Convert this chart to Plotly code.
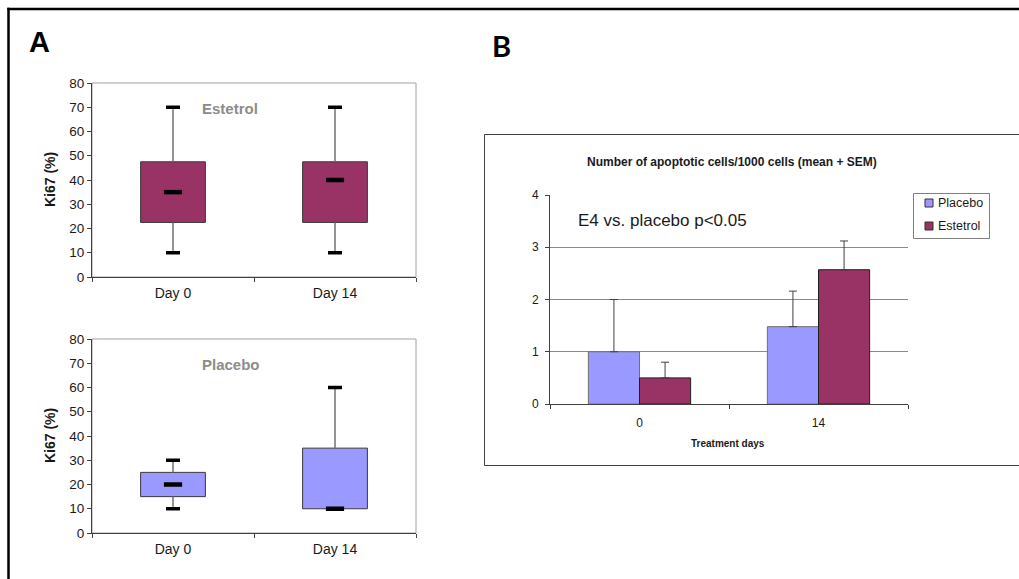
import plotly.graph_objects as go

W, H = 1019, 579

# ---------------- data ----------------
days = ["Day 0", "Day 14"]

estetrol_min = [10, 10]
estetrol_q1 = [22.5, 22.5]
estetrol_median = [35, 40]
estetrol_q3 = [47.5, 47.5]
estetrol_max = [70, 70]

placebo_min = [10, 10]
placebo_q1 = [15, 10]
placebo_median = [20, 10]
placebo_q3 = [25, 35]
placebo_max = [30, 60]

treat_days = ["0", "14"]
series_names = ["Placebo", "Estetrol"]
apo_placebo = [1.0, 1.48]
apo_placebo_sem = [1.0, 0.68]
apo_estetrol = [0.5, 2.57]
apo_estetrol_sem = [0.3, 0.55]

PLUM = "#993366"
LAV = "#9999FF"
FONT = "Liberation Sans, Arial, sans-serif"


def px(x):
    return x / W


def py(y):
    return 1 - y / H


fig = go.Figure()


def add_boxes(xa, ya, mn, q1, med, q3, mx, color):
    height = [b - a for a, b in zip(q1, q3)]
    fig.add_trace(go.Bar(x=days, y=height, base=q1, width=0.4,
                         marker=dict(color=color, line=dict(color="#3a3a3a", width=1)),
                         xaxis=xa, yaxis=ya, showlegend=False, hoverinfo="skip"))
    wx, wy = [], []
    for d, a, b, c, e in zip(days, mn, q1, q3, mx):
        wx += [d, d, None, d, d, None]
        wy += [a, b, None, c, e, None]
    fig.add_trace(go.Scatter(x=wx, y=wy, mode="lines",
                             line=dict(color="#707070", width=1.5),
                             xaxis=xa, yaxis=ya, showlegend=False, hoverinfo="skip"))
    fig.add_trace(go.Scatter(x=days + days, y=mn + mx, mode="markers",
                             marker=dict(symbol="line-ew", size=10,
                                         line=dict(color="black", width=3.5)),
                             xaxis=xa, yaxis=ya, showlegend=False, hoverinfo="skip"))
    fig.add_trace(go.Scatter(x=days, y=med, mode="markers",
                             marker=dict(symbol="line-ew", size=13,
                                         line=dict(color="black", width=4.5)),
                             xaxis=xa, yaxis=ya, showlegend=False, hoverinfo="skip"))


add_boxes("x", "y", estetrol_min, estetrol_q1, estetrol_median, estetrol_q3, estetrol_max, PLUM)
add_boxes("x2", "y2", placebo_min, placebo_q1, placebo_median, placebo_q3, placebo_max, LAV)

# Panel B bars
fig.add_trace(go.Bar(x=treat_days, y=apo_placebo, name=series_names[0],
                     marker=dict(color=LAV, line=dict(color="#707070", width=1)),
                     error_y=dict(type="data", array=apo_placebo_sem,
                                  arrayminus=[0] * len(apo_placebo), symmetric=False,
                                  color="#404040", thickness=1, width=4),
                     xaxis="x3", yaxis="y3", hoverinfo="skip", showlegend=False))
fig.add_trace(go.Bar(x=treat_days, y=apo_estetrol, name=series_names[1],
                     marker=dict(color=PLUM, line=dict(color="#202020", width=1)),
                     error_y=dict(type="data", array=apo_estetrol_sem,
                                  arrayminus=[0] * len(apo_estetrol), symmetric=False,
                                  color="#404040", thickness=1, width=4),
                     xaxis="x3", yaxis="y3", hoverinfo="skip", showlegend=False))

axis_font = dict(family=FONT, size=13.5, color="#1a1a1a")

xa_common = dict(type="category", range=[-0.5, 1.5], showline=True, linecolor="#404040",
                 linewidth=1, ticks="outside", tickson="boundaries", ticklen=4,
                 tickcolor="#404040", showgrid=False, zeroline=False, ticklabelstandoff=3,
                 tickfont=dict(family=FONT, size=14, color="#1a1a1a"), fixedrange=True)
ya_common = dict(range=[0, 80], dtick=10, showline=True, linecolor="#404040", linewidth=1,
                 ticks="outside", ticklen=4, tickcolor="#404040", showgrid=False,
                 zeroline=False, tickfont=axis_font, fixedrange=True)

fig.update_layout(
    width=W, height=H, autosize=False,
    margin=dict(l=0, r=0, t=0, b=0, pad=0, autoexpand=False),
    paper_bgcolor="white", plot_bgcolor="white",
    barmode="group", bargap=0.4286, bargroupgap=0,
    font=dict(family=FONT, color="#1a1a1a"),
    xaxis=dict(domain=[px(92), px(416)], anchor="y", **xa_common),
    yaxis=dict(domain=[py(277), py(83)], anchor="x", **ya_common),
    xaxis2=dict(domain=[px(92), px(416)], anchor="y2", **xa_common),
    yaxis2=dict(domain=[py(533), py(339)], anchor="x2", **ya_common),
    xaxis3=dict(domain=[px(550), px(908)], anchor="y3", type="category",
                range=[-0.5, 1.5], showline=True, linecolor="#404040", linewidth=1,
                ticks="outside", tickson="boundaries", ticklen=4, tickcolor="#404040",
                showgrid=False, zeroline=False, ticklabelstandoff=8,
                tickfont=dict(family=FONT, size=12, color="#1a1a1a"), fixedrange=True),
    yaxis3=dict(domain=[py(404), py(195)], anchor="x3", range=[0, 4], dtick=1,
                showline=True, linecolor="#404040", linewidth=1, ticks="outside",
                ticklen=4, tickcolor="#404040", showgrid=True, gridcolor="#8a8a8a",
                gridwidth=1, zeroline=False, ticklabelstandoff=4,
                tickfont=dict(family=FONT, size=12, color="#1a1a1a"), fixedrange=True),
    showlegend=False,
)


def seg(x0, y0, x1, y1, color, width):
    return dict(type="line", xref="paper", yref="paper", x0=px(x0), y0=py(y0),
                x1=px(x1), y1=py(y1), line=dict(color=color, width=width), layer="below")


shapes = [
    # outer frame (open on the right and bottom, where it leaves the picture)
    seg(8.5, 579, 8.5, 7.8, "black", 2.5),
    seg(7.3, 9, 1019, 9, "black", 2.5),
    # panel B frame (open on the right)
    seg(484.5, 134.5, 1019, 134.5, "#404040", 1),
    seg(484.5, 134.5, 484.5, 465.5, "#404040", 1),
    seg(484.5, 465.5, 1019, 465.5, "#404040", 1),
    # plot frames panel A
    dict(type="rect", xref="x domain", yref="y domain", x0=0, x1=1, y0=0, y1=1,
         line=dict(color="#a0a0a0", width=1), layer="below"),
    dict(type="rect", xref="x2 domain", yref="y2 domain", x0=0, x1=1, y0=0, y1=1,
         line=dict(color="#a0a0a0", width=1), layer="below"),
    # legend box panel B
    dict(type="rect", xref="paper", yref="paper", x0=px(913.5), x1=px(989.5), y0=py(238.5),
         y1=py(193.5), line=dict(color="#808080", width=1), fillcolor="white", layer="above"),
]
legend_colors = [LAV, PLUM]
legend_rows = [203, 226]
for c, yr in zip(legend_colors, legend_rows):
    shapes.append(dict(type="rect", xref="paper", yref="paper", x0=px(925), x1=px(933),
                       y0=py(yr + 4), y1=py(yr - 4), line=dict(color="#303030", width=1),
                       fillcolor=c, layer="above"))
fig.update_layout(shapes=shapes)

ann = [
    dict(text="<b>A</b>", x=px(39), y=py(42), font=dict(family=FONT, size=29, color="black")),
    dict(text="<b>B</b>", x=px(501), y=py(45), font=dict(family="Lato, sans-serif", size=29, color="black")),
    dict(text="<b>Estetrol</b>", x=px(230), y=py(108), font=dict(family=FONT, size=15, color="#8c8c8c")),
    dict(text="<b>Placebo</b>", x=px(230.5), y=py(365), font=dict(family=FONT, size=15, color="#8c8c8c")),
    dict(text="<b>Ki67 (%)</b>", x=px(50), y=py(180), textangle=-90,
         font=dict(family=FONT, size=14, color="#1a1a1a")),
    dict(text="<b>Ki67 (%)</b>", x=px(50), y=py(436), textangle=-90,
         font=dict(family=FONT, size=14, color="#1a1a1a")),
    dict(text="<b>Number of apoptotic cells/1000 cells (mean + SEM)</b>", x=px(732), y=py(162),
         font=dict(family=FONT, size=12, color="#1a1a1a")),
    dict(text="<b>Treatment days</b>", x=px(728), y=py(443),
         font=dict(family=FONT, size=10, color="#1a1a1a")),
]
for a in ann:
    a.update(xref="paper", yref="paper", showarrow=False, xanchor="center", yanchor="middle")
ann.append(dict(text="E4 vs. placebo p<0.05", x=px(576), y=py(221), xref="paper", yref="paper",
                showarrow=False, xanchor="left", yanchor="middle",
                font=dict(family=FONT, size=17, color="#1a1a1a")))
for name, yr in zip(series_names, legend_rows):
    ann.append(dict(text=name, x=px(936), y=py(yr), xref="paper", yref="paper",
                    showarrow=False, xanchor="left", yanchor="middle",
                    font=dict(family=FONT, size=12.5, color="#1a1a1a")))
fig.update_layout(annotations=ann)

fig.write_html("out.html", config={"displayModeBar": False})
